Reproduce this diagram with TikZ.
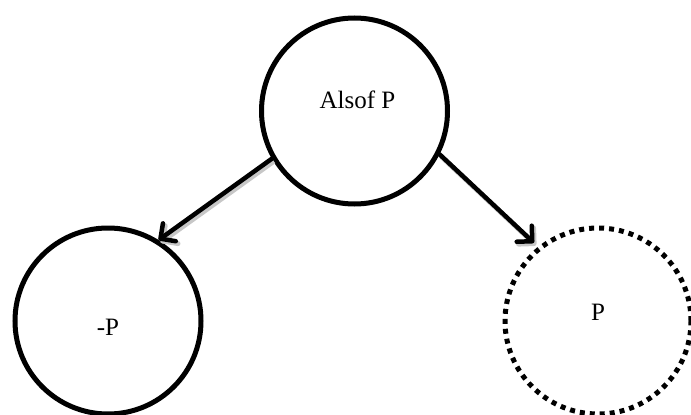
\documentclass[tikz,border=0pt]{standalone}
\usepackage{fontspec}
\setmainfont{Liberation Serif}
\usetikzlibrary{arrows.meta}
\begin{document}
\begin{tikzpicture}[x=1pt,y=1pt,
  state/.style={circle, draw=black, line width=5pt, minimum size=186pt, inner sep=0pt},
  dotstate/.style={state, line cap=butt, dash pattern=on 5pt off 5pt},
  lab/.style={font=\fontsize{25}{28}\selectfont},
  conn/.style={line width=4.5pt, line cap=round,
    -{Straight Barb[length=11pt,width=22pt,line cap=round,line join=round]},
    preaction={draw=black!22, line width=5pt, transform canvas={shift={(2pt,-2.5pt)}}}}]
\useasboundingbox (0,0) rectangle (691,-415);
\node[state, label={[lab, xshift=3pt, yshift=11pt]center:Alsof P}] (top) at (354.5,-111) {};
\node[state, label={[lab, yshift=-6pt]center:-P}] (left) at (108,-321) {};
\node[dotstate, label={[lab, yshift=9pt]center:P}] (right) at (598,-321) {};
\draw[conn] (top.210) -- (left.58);
\draw[conn] (top.333) -- ([shift={(-4pt,4pt)}]right.129);
\end{tikzpicture}
\end{document}
